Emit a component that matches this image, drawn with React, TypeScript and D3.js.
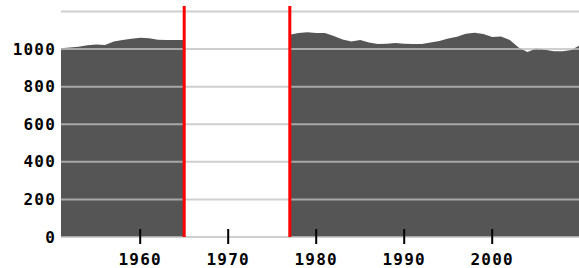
import React from "react";
import * as d3 from "d3";

// population before the gap (1951-1965)
const yearsEarly = [1951, 1952, 1953, 1954, 1955, 1956, 1957, 1958, 1959, 1960, 1961, 1962, 1963, 1964, 1965];
const popEarly = [1005, 1008, 1012, 1020, 1025, 1022, 1040, 1048, 1055, 1060, 1058, 1050, 1048, 1048, 1048];

// population after the gap (1977-2010)
const yearsLate = [
  1977, 1978, 1979, 1980, 1981, 1982, 1983, 1984, 1985, 1986, 1987, 1988, 1989, 1990, 1991, 1992, 1993,
  1994, 1995, 1996, 1997, 1998, 1999, 2000, 2001, 2002, 2003, 2004, 2005, 2006, 2007, 2008, 2009, 2010,
];
const popLate = [
  1076, 1085, 1090, 1085, 1085, 1069, 1051, 1041, 1048, 1035, 1027, 1029, 1032, 1029, 1027, 1027, 1035,
  1043, 1056, 1065, 1082, 1087, 1080, 1064, 1067, 1048, 1008, 984, 1003, 997, 989, 989, 995, 1021,
];

const gapYears = [1965, 1977];
const yTicks = [0, 200, 400, 600, 800, 1000, 1200];
const xTicks = [1960, 1970, 1980, 1990, 2000];

const W = 579;
const H = 268;

const App: React.FC = () => {
  const x = d3.scaleLinear().domain([1951, 2010]).range([61, 580.2]);
  const y = d3.scaleLinear().domain([0, 1200]).range([237, 11.5]);

  const area = d3
    .area<[number, number]>()
    .x((d) => x(d[0]))
    .y0(y(0))
    .y1((d) => y(d[1]));

  const early = yearsEarly.map((yr, i) => [yr, popEarly[i]] as [number, number]);
  const late = yearsLate.map((yr, i) => [yr, popLate[i]] as [number, number]);

  const labelFont = {
    fontFamily: "'DejaVu Sans Mono', monospace",
    fontWeight: "bold" as const,
    fontSize: 16,
    letterSpacing: 1.2,
  };

  return (
    <svg
      width={W}
      height={H}
      viewBox={`0 0 ${W} ${H}`}
      style={{ position: "absolute", left: 0, top: 0, background: "#fff" }}
    >
      <path d={area(early) || ""} fill="#555555" />
      <path d={area(late) || ""} fill="#555555" />

      {/* gridlines over the area */}
      {yTicks.map((t) => (
        <line
          key={t}
          x1={61}
          x2={W}
          y1={y(t)}
          y2={y(t)}
          stroke="#c1c1c1"
          strokeOpacity={0.77}
          strokeWidth={2}
        />
      ))}

      {/* y labels */}
      {yTicks
        .filter((t) => t < 1200)
        .map((t) => (
          <text
            key={t}
            x={56}
            y={y(t)}
            textAnchor="end"
            dominantBaseline="central"
            fill="#000"
            style={labelFont}
          >
            {t}
          </text>
        ))}

      {/* x ticks and labels */}
      {xTicks.map((t) => (
        <g key={t}>
          <line x1={x(t)} x2={x(t)} y1={229} y2={244} stroke="#000" strokeWidth={2} />
          <text x={x(t)} y={265} textAnchor="middle" fill="#000" style={labelFont}>
            {t}
          </text>
        </g>
      ))}

      {/* gap markers */}
      {gapYears.map((g) => (
        <line key={g} x1={x(g)} x2={x(g)} y1={6} y2={y(0)} stroke="#ff0000" strokeWidth={3} />
      ))}
    </svg>
  );
};

export default App;
